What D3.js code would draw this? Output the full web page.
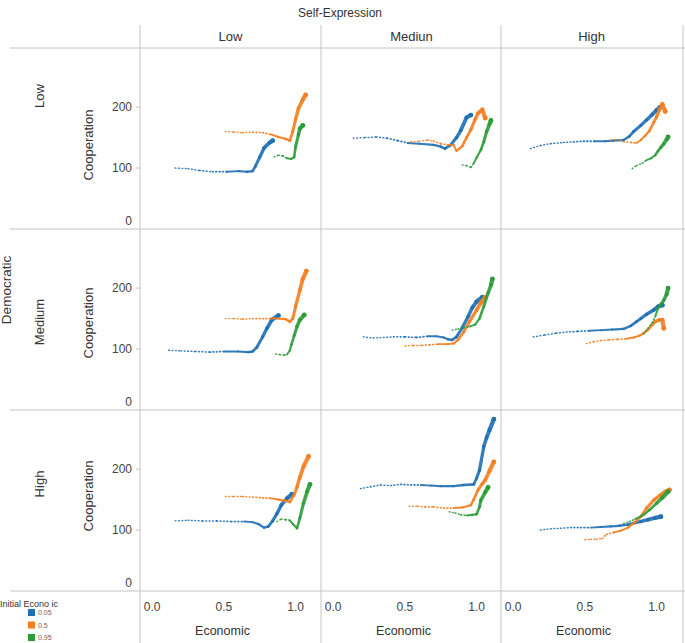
<!DOCTYPE html>
<html>
<head>
<meta charset="utf-8">
<script src="https://cdn.jsdelivr.net/npm/d3@7"></script>
<style>
  body { margin: 0; background: #fff; }
  text { font-family: "Liberation Sans", Arial, sans-serif; }
</style>
</head>
<body>
<div id="chart"></div>
<script>
// column / row categories and tick labels
var colNames = ["Low", "Mediun", "High"];
var rowNames = ["Low", "Medium", "High"];
var seriesNames = ["0.05", "0.5", "0.95"];
var seriesColors = ["#1f6fb4", "#f47f20", "#2c9c38"];
var xTicks = [0, 0.5, 1.0];
var yTicks = [0, 100, 200];

// [economic, cooperation], rows = Democratic, cols = Self-Expression
var lowLow_005 = [[0.16,100],[0.25,99],[0.33,96],[0.42,94],[0.52,94],[0.60,95],[0.66,94],[0.70,95],[0.72,103],[0.75,118],[0.78,133],[0.82,142],[0.84,145]];
var lowLow_05 = [[0.51,160],[0.57,159],[0.63,158],[0.70,159],[0.77,158],[0.83,155],[0.88,151],[0.93,148],[0.96,145],[0.98,160],[1.00,180],[1.02,198],[1.05,212],[1.07,220]];
var lowLow_095 = [[0.85,118],[0.88,121],[0.91,120],[0.94,116],[0.97,115],[0.99,118],[1.00,135],[1.02,155],[1.03,165],[1.05,170]];

var lowMed_005 = [[0.14,149],[0.22,150],[0.30,151],[0.375,149],[0.45,145],[0.52,141],[0.60,140],[0.70,138],[0.75,135],[0.78,132],[0.82,138],[0.86,150],[0.89,162],[0.93,183],[0.96,187]];
var lowMed_05 = [[0.54,143],[0.60,144],[0.66,146],[0.70,144],[0.75,140],[0.80,138],[0.84,138],[0.86,128],[0.88,132],[0.90,136],[0.93,150],[0.96,163],[0.99,180],[1.01,190],[1.04,196],[1.06,182]];
var lowMed_095 = [[0.90,105],[0.93,104],[0.96,101],[0.98,108],[1.00,117],[1.03,130],[1.05,143],[1.07,160],[1.09,172],[1.10,178]];

var lowHigh_005 = [[0.12,132],[0.19,137],[0.26,140],[0.35,142],[0.42,143],[0.49,144],[0.57,144],[0.64,144],[0.70,145],[0.77,146],[0.81,152],[0.84,160],[0.89,170],[0.93,179],[0.97,188],[1.00,195],[1.025,200]];
var lowHigh_05 = [[0.68,146],[0.73,147],[0.77,143],[0.82,142],[0.86,141],[0.89,146],[0.92,153],[0.95,161],[0.98,175],[1.00,184],[1.02,196],[1.04,205],[1.06,193]];
var lowHigh_095 = [[0.83,99],[0.86,104],[0.90,108],[0.93,113],[0.96,116],[0.99,121],[1.01,128],[1.03,134],[1.05,140],[1.07,147],[1.08,151]];

var medLow_005 = [[0.115,98],[0.20,97],[0.30,96],[0.40,95],[0.50,96],[0.60,96],[0.67,95],[0.70,96],[0.73,103],[0.77,120],[0.80,134],[0.835,148],[0.88,155]];
var medLow_05 = [[0.51,150],[0.57,150],[0.63,149],[0.70,150],[0.77,150],[0.83,150],[0.88,150],[0.93,149],[0.96,145],[0.98,150],[1.00,170],[1.03,197],[1.05,215],[1.075,228]];
var medLow_095 = [[0.86,92],[0.89,91],[0.92,90],[0.94,91],[0.96,98],[0.97,107],[0.99,122],[1.01,137],[1.03,148],[1.06,156]];

var medMed_005 = [[0.21,120],[0.28,118],[0.35,119],[0.42,120],[0.50,120],[0.58,119],[0.66,121],[0.72,121],[0.77,119],[0.80,116],[0.83,115],[0.86,120],[0.90,135],[0.94,153],[0.97,168],[1.00,178],[1.04,185]];
var medMed_05 = [[0.50,105],[0.56,106],[0.62,106],[0.67,107],[0.73,108],[0.79,108],[0.84,109],[0.87,115],[0.91,128],[0.95,145],[1.00,164],[1.03,176],[1.06,185]];
var medMed_095 = [[0.83,131],[0.87,133],[0.91,135],[0.95,137],[0.99,140],[1.02,150],[1.05,170],[1.08,192],[1.10,205],[1.11,215]];

var medHigh_005 = [[0.14,120],[0.22,123],[0.30,126],[0.37,128],[0.45,129],[0.53,130],[0.61,131],[0.69,132],[0.77,133],[0.82,138],[0.86,145],[0.89,150],[0.93,157],[0.98,164],[1.01,170],[1.04,172]];
var medHigh_05 = [[0.51,109],[0.56,112],[0.61,114],[0.67,115],[0.73,116],[0.79,117],[0.84,119],[0.88,122],[0.91,126],[0.94,132],[0.97,140],[0.99,145],[1.02,148],[1.04,148],[1.05,134]];
var medHigh_095 = [[0.91,126],[0.94,134],[0.97,143],[0.99,153],[1.01,167],[1.03,174],[1.05,180],[1.07,190],[1.08,200]];

var highLow_005 = [[0.16,115],[0.25,116],[0.35,115],[0.45,115],[0.55,114],[0.64,114],[0.70,113],[0.74,110],[0.78,104],[0.81,106],[0.84,115],[0.87,127],[0.90,141],[0.94,152],[0.975,159]];
var highLow_05 = [[0.51,155],[0.57,155],[0.63,155],[0.70,154],[0.77,153],[0.83,152],[0.88,150],[0.93,148],[0.96,146],[0.99,158],[1.01,171],[1.03,187],[1.055,204],[1.09,221]];
var highLow_095 = [[0.87,114],[0.90,118],[0.93,117],[0.96,116],[0.98,110],[1.01,103],[1.03,120],[1.055,144],[1.08,163],[1.10,175]];

var highMed_005 = [[0.19,168],[0.26,171],[0.33,174],[0.40,173],[0.47,175],[0.54,174],[0.61,174],[0.68,173],[0.75,172],[0.84,172],[0.91,174],[0.98,175],[1.00,185],[1.02,198],[1.05,237],[1.07,252],[1.09,264],[1.12,282]];
var highMed_05 = [[0.53,139],[0.59,139],[0.64,138],[0.70,138],[0.77,136],[0.84,136],[0.90,137],[0.96,141],[0.98,150],[1.01,166],[1.04,176],[1.06,182],[1.09,197],[1.12,212]];
var highMed_095 = [[0.81,130],[0.85,128],[0.89,125],[0.93,124],[0.97,125],[1.00,126],[1.02,138],[1.03,149],[1.06,162],[1.08,170]];

var highHigh_005 = [[0.19,100],[0.26,102],[0.33,103],[0.40,104],[0.47,104],[0.54,104],[0.61,105],[0.68,106],[0.74,107],[0.80,109],[0.85,112],[0.89,114],[0.94,117],[0.99,120],[1.03,122]];
var highHigh_05 = [[0.50,84],[0.54,85],[0.58,85],[0.62,86],[0.65,93],[0.70,96],[0.75,99],[0.80,104],[0.85,113],[0.89,122],[0.93,136],[0.98,149],[1.03,158],[1.06,163],[1.09,166]];
var highHigh_095 = [[0.77,111],[0.81,114],[0.85,118],[0.91,125],[0.95,133],[1.00,144],[1.04,153],[1.08,163]];

// panels[row][col] = [series 0.05, 0.5, 0.95]
var panels = [
  [[lowLow_005, lowLow_05, lowLow_095], [lowMed_005, lowMed_05, lowMed_095], [lowHigh_005, lowHigh_05, lowHigh_095]],
  [[medLow_005, medLow_05, medLow_095], [medMed_005, medMed_05, medMed_095], [medHigh_005, medHigh_05, medHigh_095]],
  [[highLow_005, highLow_05, highLow_095], [highMed_005, highMed_05, highMed_095], [highHigh_005, highHigh_05, highHigh_095]]
];

var width = 685, height = 643;
var colX = [140, 321, 501], colW = 181;
var rowY = [48, 229, 410], rowH = 181;
var lineColor = "#c4c4c4";

var svg = d3.select("#chart").append("svg")
  .attr("width", width)
  .attr("height", height);

svg.append("rect").attr("width", width).attr("height", height).attr("fill", "#fff");

// same scales inside every panel
var x = d3.scaleLinear().domain([-0.085, 1.177]).range([0, colW]);
var y = d3.scaleLinear().domain([0, 297]).range([rowH, 0]);

// grid frame
[140, 321, 501, 683].forEach(function(xx) {
  svg.append("line")
    .attr("x1", xx).attr("x2", xx).attr("y1", 25).attr("y2", height)
    .attr("stroke", lineColor).attr("stroke-width", 1);
});
[48, 229, 410, 591].forEach(function(yy) {
  svg.append("line")
    .attr("x1", 10).attr("x2", width).attr("y1", yy).attr("y2", yy)
    .attr("stroke", lineColor).attr("stroke-width", 1);
});

// titles
svg.append("text")
  .attr("x", 340).attr("y", 17)
  .attr("text-anchor", "middle")
  .attr("font-size", 12).attr("fill", "#333")
  .text("Self-Expression");

colNames.forEach(function(name, c) {
  svg.append("text")
    .attr("x", colX[c] + colW / 2).attr("y", 41)
    .attr("text-anchor", "middle")
    .attr("font-size", 13).attr("fill", "#333")
    .text(name);
});

svg.append("text")
  .attr("transform", "translate(11,290) rotate(-90)")
  .attr("text-anchor", "middle")
  .attr("font-size", 13.5).attr("fill", "#333")
  .text("Democratic");

var rowLabelY = [96, 322, 484];
var coopLabelY = [145, 323, 496];

rowNames.forEach(function(name, r) {
  svg.append("text")
    .attr("transform", "translate(44," + rowLabelY[r] + ") rotate(-90)")
    .attr("text-anchor", "middle")
    .attr("font-size", 13).attr("fill", "#333")
    .text(name);

  svg.append("text")
    .attr("transform", "translate(93," + coopLabelY[r] + ") rotate(-90)")
    .attr("text-anchor", "middle")
    .attr("font-size", 13).attr("fill", "#333")
    .text("Cooperation");

  // y axis for the row
  var ay = svg.append("g").attr("transform", "translate(0," + rowY[r] + ")");
  yTicks.forEach(function(t) {
    if (t > 0) {
      ay.append("line")
        .attr("x1", 136).attr("x2", 140)
        .attr("y1", y(t)).attr("y2", y(t))
        .attr("stroke", lineColor);
    }
    ay.append("text")
      .attr("x", 132)
      .attr("y", t == 0 ? y(t) - 8 : y(t))
      .attr("dy", "0.35em")
      .attr("text-anchor", "end")
      .attr("font-size", 12).attr("fill", "#444")
      .text(t);
  });
});

// x axis labels under each column
colNames.forEach(function(name, c) {
  var ax = svg.append("g").attr("transform", "translate(" + colX[c] + ",591)");
  xTicks.forEach(function(t) {
    ax.append("text")
      .attr("x", x(t)).attr("y", 20)
      .attr("text-anchor", "middle")
      .attr("font-size", 12).attr("fill", "#444")
      .text(d3.format(".1f")(t));
  });
  ax.append("text")
    .attr("x", colW / 2 - 8).attr("y", 44)
    .attr("text-anchor", "middle")
    .attr("font-size", 12.5).attr("fill", "#333")
    .text("Economic");
});

// one trail: thin speckled start, thick end
function drawTrail(g, pts, color) {
  var n = pts.length;
  for (var i = 1; i < n; i++) {
    var t = i / (n - 1);
    g.append("line")
      .attr("x1", x(pts[i - 1][0])).attr("y1", y(pts[i - 1][1]))
      .attr("x2", x(pts[i][0])).attr("y2", y(pts[i][1]))
      .attr("stroke", color)
      .attr("stroke-width", 1.4 + 2.8 * t * t)
      .attr("stroke-linecap", "round")
      .attr("stroke-dasharray", t < 0.4 ? "0.8,2.6" : null)
      .attr("opacity", 0.9);
  }
  g.append("circle")
    .attr("cx", x(pts[n - 1][0])).attr("cy", y(pts[n - 1][1]))
    .attr("r", 2.4)
    .attr("fill", color);
}

panels.forEach(function(row, r) {
  row.forEach(function(series, c) {
    var g = svg.append("g")
      .attr("transform", "translate(" + colX[c] + "," + rowY[r] + ")");
    series.forEach(function(pts, s) {
      drawTrail(g, pts, seriesColors[s]);
    });
  });
});

// legend
var legend = svg.append("g");
legend.append("text")
  .attr("x", 0).attr("y", 607)
  .attr("font-size", 9).attr("fill", "#333")
  .text("Initial Econo  ic");
seriesNames.forEach(function(name, i) {
  legend.append("rect")
    .attr("x", 28).attr("y", 609 + i * 12.5)
    .attr("width", 7).attr("height", 7)
    .attr("fill", seriesColors[i]);
  legend.append("text")
    .attr("x", 38).attr("y", 615 + i * 12.5)
    .attr("font-size", 7).attr("fill", "#666")
    .text(name);
});
</script>
</body>
</html>
